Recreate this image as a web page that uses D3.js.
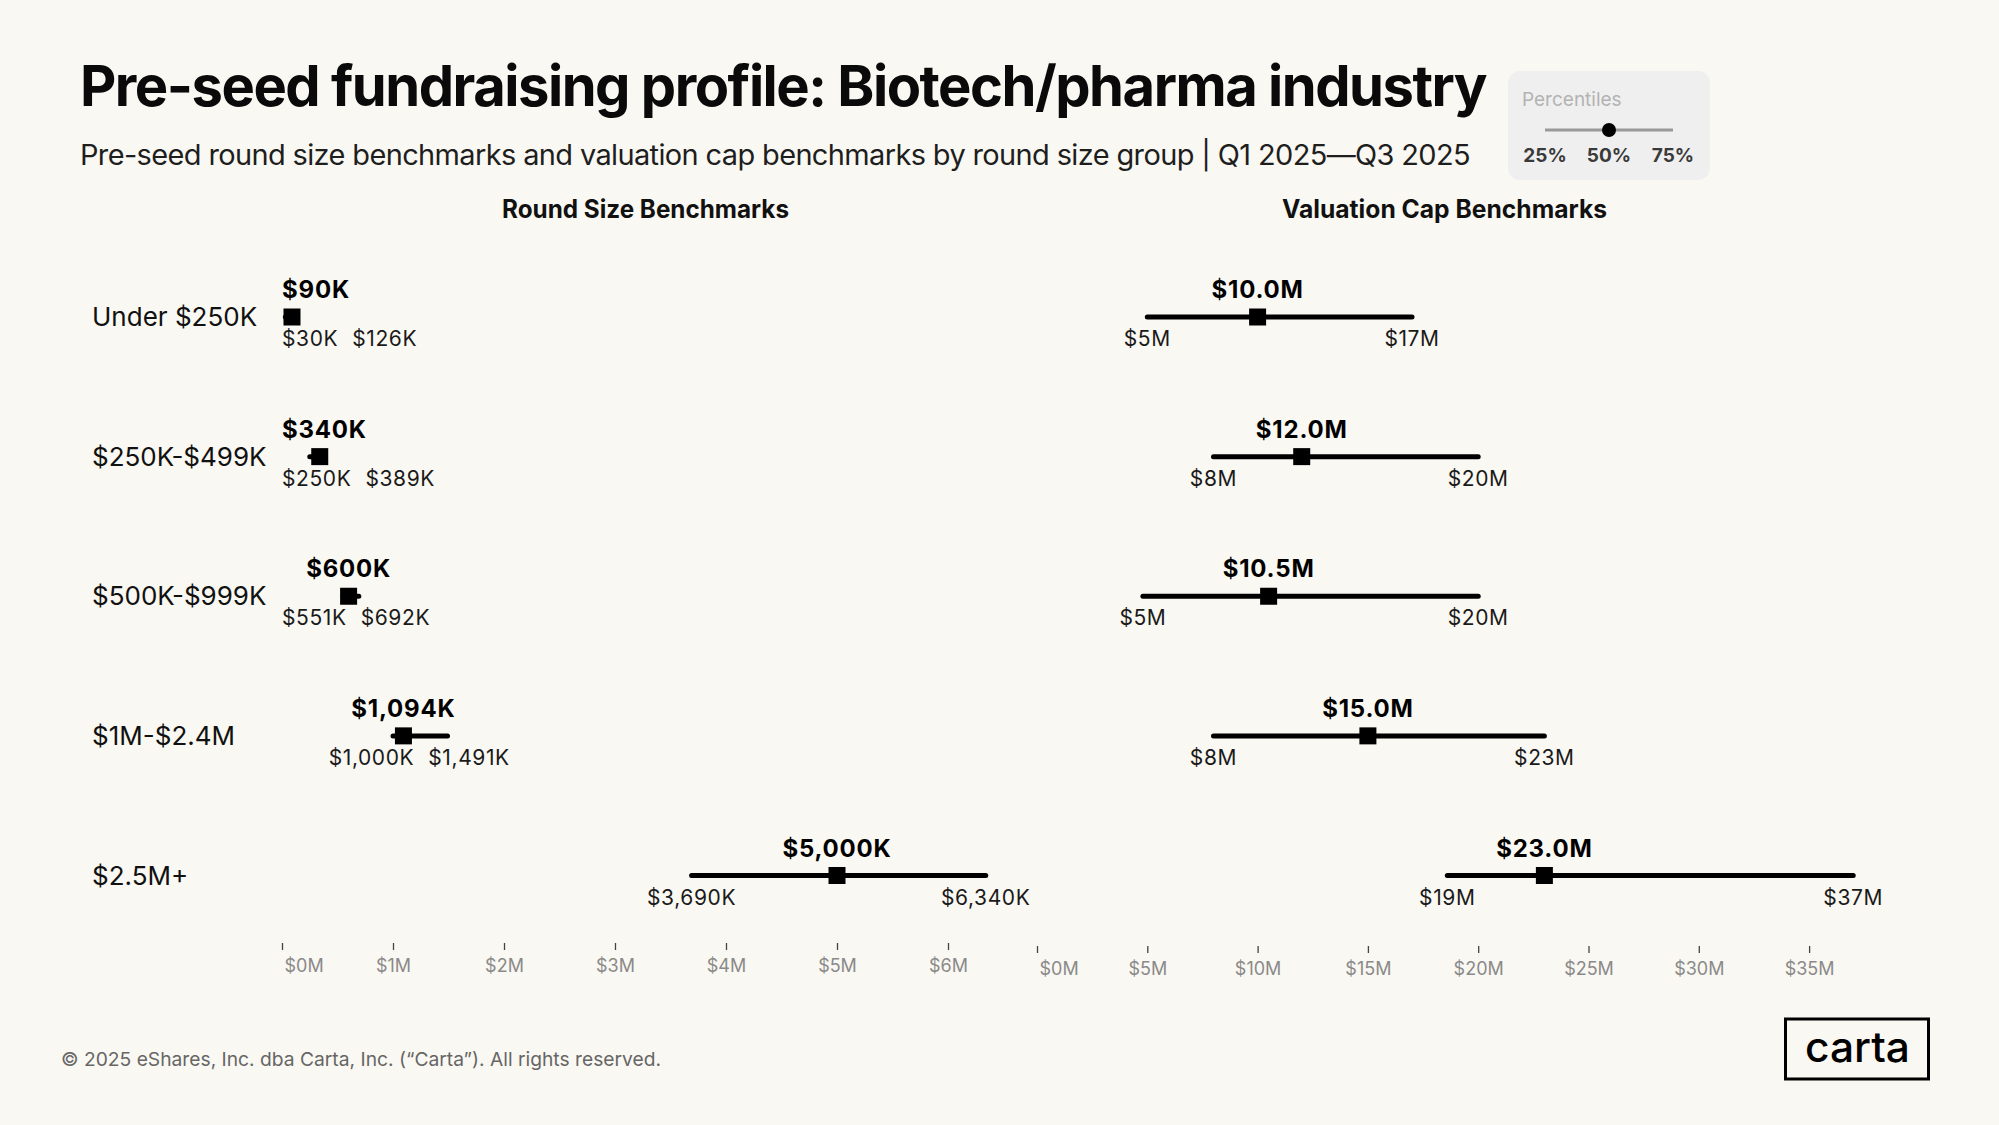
<!DOCTYPE html>
<html>
<head>
<meta charset="utf-8">
<script src="https://cdn.jsdelivr.net/npm/d3@7"></script>
<style>
  html, body { margin: 0; padding: 0; background: #faf8f2; }
  svg { display: block; }
  text { font-family: Inter, "Noto Sans", sans-serif; }
</style>
</head>
<body>
<svg id="chart" width="1999" height="1125"></svg>
<script>
// ---------- DATA ----------
const groups = ["Under $250K", "$250K-$499K", "$500K-$999K", "$1M-$2.4M", "$2.5M+"];
// Round size benchmarks ($K)
const roundP25 = [30, 250, 551, 1000, 3690];
const roundP50 = [90, 340, 600, 1094, 5000];
const roundP75 = [126, 389, 692, 1491, 6340];
// Valuation cap benchmarks ($M)
const capP25 = [5, 8, 4.8, 8, 18.6];
const capP50 = [10, 12, 10.5, 15, 23];
const capP75 = [17, 20, 20, 23, 37];
// Axis ticks
const roundTicks = [0, 1000, 2000, 3000, 4000, 5000, 6000];
const capTicks = [0, 5, 10, 15, 20, 25, 30, 35];
const legendLabels = ["25%", "50%", "75%"];

const title = "Pre-seed fundraising profile: Biotech/pharma industry";
const subtitle = "Pre-seed round size benchmarks and valuation cap benchmarks by round size group | Q1 2025\u2014Q3 2025";
const footer = "\u00A9 2025 eShares, Inc. dba Carta, Inc. (\u201CCarta\u201D). All rights reserved.";

// ---------- SETUP ----------
const svg = d3.select("#chart");
svg.append("rect").attr("width", 1999).attr("height", 1125).attr("fill", "#faf8f2");

function fit(sel, w) {
  sel.attr("textLength", w).attr("lengthAdjust", "spacingAndGlyphs");
  return sel;
}

// Title & subtitle
fit(svg.append("text").attr("x", 80).attr("y", 106)
  .attr("font-size", 56).attr("font-weight", 700).attr("fill", "#0a0a0a")
  .attr("letter-spacing", -1.5).text(title), 1406);
fit(svg.append("text").attr("x", 80).attr("y", 165)
  .attr("font-size", 28).attr("font-weight", 400).attr("fill", "#1e1e1e")
  .attr("letter-spacing", -0.6).text(subtitle), 1390);

// Legend
const lg = svg.append("g");
lg.append("rect").attr("x", 1508).attr("y", 71).attr("width", 202).attr("height", 109)
  .attr("rx", 12).attr("fill", "#efefef");
lg.append("text").attr("x", 1522).attr("y", 106).attr("font-size", 19)
  .attr("fill", "#b3b3b3").text("Percentiles");
const lx = d3.scalePoint().domain(legendLabels).range([1545, 1673]);
lg.append("line").attr("x1", lx("25%")).attr("x2", lx("75%")).attr("y1", 130).attr("y2", 130)
  .attr("stroke", "#9a9a9a").attr("stroke-width", 3);
lg.append("circle").attr("cx", lx("50%")).attr("cy", 130).attr("r", 7).attr("fill", "#000");
lg.selectAll("text.lab").data(legendLabels).enter().append("text")
  .attr("class", "lab").attr("x", d => lx(d)).attr("y", 162)
  .attr("text-anchor", "middle").attr("font-size", 19).attr("font-weight", 700)
  .attr("fill", "#3a3a3a").text(d => d);

// Column titles
fit(svg.append("text").attr("x", 645.5).attr("y", 218).attr("text-anchor", "middle")
  .attr("font-size", 25).attr("font-weight", 700).attr("fill", "#111")
  .text("Round Size Benchmarks"), 287);
fit(svg.append("text").attr("x", 1444.5).attr("y", 218).attr("text-anchor", "middle")
  .attr("font-size", 25).attr("font-weight", 700).attr("fill", "#111")
  .text("Valuation Cap Benchmarks"), 325);

// Scales
const y = d3.scalePoint().domain(groups).range([317, 875.5]);
const xRound = d3.scaleLinear().domain([0, 6500]).range([282, 282 + 6.5 * 111]);
const xCap = d3.scaleLinear().domain([0, 38]).range([1037, 1037 + 38 * 22.06]);

// Row labels
svg.selectAll("text.rowlab").data(groups).enter().append("text")
  .attr("class", "rowlab").attr("x", 92).attr("y", d => y(d) + 9)
  .attr("font-size", 26).attr("fill", "#111").attr("letter-spacing", 0).text(d => d);

// Axes
function drawAxis(scale, ticks, fmt, yPos) {
  const g = svg.append("g").attr("transform", `translate(0,${yPos})`)
    .call(d3.axisBottom(scale).tickValues(ticks).tickFormat(fmt).tickSize(7).tickPadding(9));
  g.select(".domain").remove();
  g.selectAll(".tick line").attr("stroke", "#444").attr("stroke-width", 1.3);
  g.selectAll(".tick text").attr("font-size", 18).attr("fill", "#8a8a8a")
    .attr("font-family", "Inter, sans-serif");
  g.selectAll(".tick text").filter((d, i) => i === 0).attr("text-anchor", "start").attr("x", 2);
}
drawAxis(xRound, roundTicks, d => "$" + (d / 1000) + "M", 943);
drawAxis(xCap, capTicks, d => "$" + d + "M", 946);

// Panels
function drawPanel(xs, p25, p50, p75, fmtMed, fmtP) {
  const minX = xs.range()[0];
  const g = svg.append("g");
  groups.forEach((grp, i) => {
    const cy = y(grp);
    g.append("line").attr("x1", xs(p25[i])).attr("x2", xs(p75[i]))
      .attr("y1", cy).attr("y2", cy).attr("stroke", "#000")
      .attr("stroke-width", 5).attr("stroke-linecap", "round");
    const s = 17;
    g.append("rect").attr("x", xs(p50[i]) - s / 2).attr("y", cy - s / 2)
      .attr("width", s).attr("height", s).attr("fill", "#000");

    // median label
    const mt = g.append("text").attr("y", cy - 19).attr("font-size", 24)
      .attr("font-weight", 700).attr("letter-spacing", 0.8).attr("fill", "#000").text(fmtMed(p50[i]));
    const mw = mt.node().getComputedTextLength();
    let mx = xs(p50[i]) - mw / 2;
    if (mx < minX) mx = minX;
    mt.attr("x", mx);

    // percentile labels
    const t25 = g.append("text").attr("y", cy + 29).attr("font-size", 21)
      .attr("letter-spacing", 0.6).attr("fill", "#1a1a1a").text(fmtP(p25[i]));
    const t75 = g.append("text").attr("y", cy + 29).attr("font-size", 21)
      .attr("letter-spacing", 0.6).attr("fill", "#1a1a1a").text(fmtP(p75[i]));
    const w25 = t25.node().getComputedTextLength();
    const w75 = t75.node().getComputedTextLength();
    let l25 = xs(p25[i]) - w25 / 2;
    let l75 = xs(p75[i]) - w75 / 2;
    const gap = 14;
    const overlap = (l25 + w25 + gap) - l75;
    if (overlap > 0) { l25 -= overlap / 2; l75 += overlap / 2; }
    if (l25 < minX) l25 = minX;
    if (l75 < l25 + w25 + gap) l75 = l25 + w25 + gap;
    t25.attr("x", l25);
    t75.attr("x", l75);
  });
}
drawPanel(xRound, roundP25, roundP50, roundP75,
  v => "$" + d3.format(",")(v) + "K", v => "$" + d3.format(",")(v) + "K");
drawPanel(xCap, capP25, capP50, capP75,
  v => "$" + d3.format(".1f")(v) + "M", v => "$" + Math.round(v) + "M");

// Footer
fit(svg.append("text").attr("x", 61).attr("y", 1066).attr("font-size", 19)
  .attr("fill", "#666").text(footer), 600);

// Logo
svg.append("rect").attr("x", 1785.5).attr("y", 1019).attr("width", 143).attr("height", 60)
  .attr("fill", "none").attr("stroke", "#000").attr("stroke-width", 3);
fit(svg.append("text").attr("x", 1857.5).attr("y", 1062).attr("text-anchor", "middle")
  .attr("font-size", 42).attr("font-weight", 500).attr("fill", "#000").text("carta"), 105);
</script>
</body>
</html>
